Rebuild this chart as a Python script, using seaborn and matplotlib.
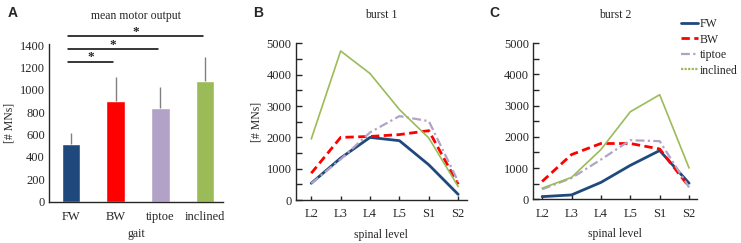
import matplotlib
matplotlib.use("Agg")
import matplotlib.pyplot as plt
from matplotlib.lines import Line2D
from matplotlib.ticker import MultipleLocator
import numpy as np
import pandas as pd
import seaborn as sns

# data
gaits = ["FW", "BW", "tiptoe", "inclined"]
mean_output = [515, 900, 834, 1078]
mean_err = [102, 217, 188, 212]
colors = ["#1f497d", "#ff0000", "#b3a2c7", "#9bbb59"]

levels = ["L2", "L3", "L4", "L5", "S1", "S2"]
burst1 = {
    "FW": [535, 1340, 2000, 1895, 1125, 180],
    "BW": [856, 2000, 2030, 2090, 2215, 500],
    "tiptoe": [530, 1300, 2160, 2680, 2520, 590],
    "inclined": [1950, 4760, 4040, 2890, 1980, 430],
}
burst2 = {
    "FW": [85, 140, 540, 1085, 1560, 515],
    "BW": [570, 1430, 1785, 1785, 1610, 400],
    "tiptoe": [320, 680, 1270, 1890, 1860, 380],
    "inclined": [355, 700, 1590, 2800, 3345, 1000],
}
# significance brackets: (from, to, height)
sig = [(0, 1, 1251), (0, 2, 1362), (0, 3, 1480)]

sns.set_style("white")
plt.rcParams["font.family"] = ["Liberation Serif", "DejaVu Serif"]
plt.rcParams["axes.linewidth"] = 1.0

fig = plt.figure(figsize=(7.41, 2.43), dpi=100)
W, H = 741, 243


def px_axes(left, right, top, bottom):
    return fig.add_axes([left / W, 1 - bottom / H, (right - left) / W, (bottom - top) / H])


# ---- panel A
axA = px_axes(49, 223, 44.5, 201.7)
df = pd.DataFrame({"gait": gaits, "val": mean_output})
sns.barplot(data=df, x="gait", y="val", hue="gait", palette=colors, width=0.41,
            legend=False, errorbar=None, ax=axA, saturation=1)
axA.errorbar(range(4), mean_output, yerr=[[0] * 4, mean_err], fmt="none",
             ecolor="#808080", elinewidth=1.0, capsize=0, zorder=1)
axA.set_xlim(-0.49, 3.4)
axA.set_ylim(0, 1405)
axA.yaxis.set_major_locator(MultipleLocator(200))
axA.tick_params(axis="y", direction="in", length=3, width=1, labelsize=9, pad=3)
axA.tick_params(axis="x", length=0, labelsize=9, pad=7)
axA.set_xlabel("gait", fontsize=8.5, labelpad=3.5)
axA.set_ylabel("[# MNs]", fontsize=8.5, labelpad=3)
axA.set_title("mean motor output", fontsize=8.5, pad=18)
sns.despine(ax=axA)
for x0, x1, y in sig:
    axA.plot([x0 - 0.07, x1 - 0.05], [y, y], color="black", lw=1.1, clip_on=False)
    axA.text((x0 + x1) / 2 - 0.06, y + 40, "*", ha="center", va="center",
             fontsize=9.5, fontweight="bold", clip_on=False)

styles = {
    "FW": dict(ls="-", lw=2.0),
    "BW": dict(ls=(0, (3, 1.6)), lw=2.0),
    "tiptoe": dict(ls=(0, (4, 1.5, 1, 1.5)), lw=1.6),
    "inclined": dict(ls="-", lw=1.2),
}


def line_panel(ax, data, title):
    for g, c in zip(gaits, colors):
        sns.lineplot(x=levels, y=data[g], color=c, ax=ax, sort=False, **styles[g])
    ax.set_ylim(0, 5000)
    ax.yaxis.set_major_locator(MultipleLocator(1000))
    ax.yaxis.set_minor_locator(MultipleLocator(500))
    ax.tick_params(axis="y", which="both", direction="in", length=4, width=1,
                   labelsize=9, pad=3, left=True)
    ax.tick_params(axis="x", direction="in", length=3, width=1, labelsize=9,
                   pad=6, bottom=True)
    ax.set_xlabel("spinal level", fontsize=8.5, labelpad=6)
    ax.set_title(title, fontsize=8.5, pad=18)
    sns.despine(ax=ax)


axB = px_axes(295.7, 467, 43.5, 200)
line_panel(axB, burst1, "burst 1")
axB.set_xlim(-0.53, 5.3)
axB.set_ylabel("[# MNs]", fontsize=8.5, labelpad=3)

axC = px_axes(533.3, 697, 43, 199.3)
line_panel(axC, burst2, "burst 2")
axC.set_xlim(-0.3, 5.27)
axC.set_ylabel("")

handles = [
    Line2D([], [], color=colors[0], ls="-", lw=2.0),
    Line2D([], [], color=colors[1], ls=(0, (3, 1.6)), lw=2.0),
    Line2D([], [], color=colors[2], ls=(0, (4, 1.5, 1, 1.5)), lw=1.6),
    Line2D([], [], color=colors[3], ls=(0, (1, 0.6)), lw=1.6),
]
fig.legend(handles, gaits, loc="upper left", bbox_to_anchor=(681 / W, 1 - 18 / H),
           frameon=False, fontsize=8.5, handlelength=1.4, handletextpad=0.2,
           labelspacing=0.3, borderaxespad=0, borderpad=0)

for lbl, x in [("A", 8), ("B", 253), ("C", 489)]:
    fig.text(x / W, 1 - 13 / H, lbl, fontsize=10, fontweight="bold", va="center",
             family=["Liberation Sans", "DejaVu Sans"])

fig.savefig("out.png", dpi=100)
